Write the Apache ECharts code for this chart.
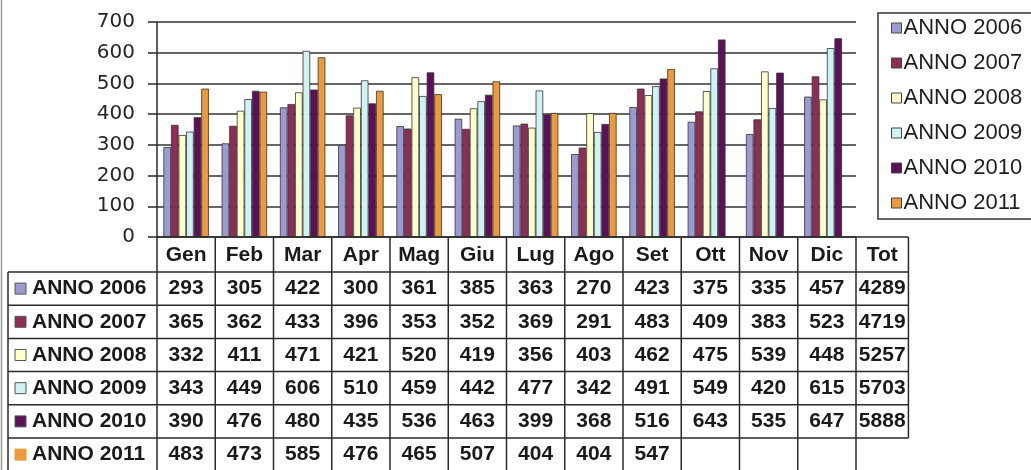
<!DOCTYPE html>
<html>
<head>
    <meta charset="utf-8">
    <title>ANNO 2006 - 2011</title>
    <script src="https://cdn.jsdelivr.net/npm/echarts@6/dist/echarts.min.js"></script>
    <style>
        html, body { margin: 0; padding: 0; background: #fff; }
    </style>
</head>
<body>
    <div id="c" style="width: 1031px;height:470px;"></div>
    <script>
    // mesi + totale
    var months = ['Gen', 'Feb', 'Mar', 'Apr', 'Mag', 'Giu', 'Lug', 'Ago', 'Set', 'Ott', 'Nov', 'Dic'];
    var years = ['ANNO 2006', 'ANNO 2007', 'ANNO 2008', 'ANNO 2009', 'ANNO 2010', 'ANNO 2011'];
    var yTicks = [0, 100, 200, 300, 400, 500, 600, 700];

    var anno2006 = [293, 305, 422, 300, 361, 385, 363, 270, 423, 375, 335, 457];
    var anno2007 = [365, 362, 433, 396, 353, 352, 369, 291, 483, 409, 383, 523];
    var anno2008 = [332, 411, 471, 421, 520, 419, 356, 403, 462, 475, 539, 448];
    var anno2009 = [343, 449, 606, 510, 459, 442, 477, 342, 491, 549, 420, 615];
    var anno2010 = [390, 476, 480, 435, 536, 463, 399, 368, 516, 643, 535, 647];
    var anno2011 = [483, 473, 585, 476, 465, 507, 404, 404, 547, null, null, null];
    var totals = [4289, 4719, 5257, 5703, 5888, null];

    var allData = [anno2006, anno2007, anno2008, anno2009, anno2010, anno2011];
    var colors = ['#9b9bd2', '#8e2d57', '#ffffcc', '#cff3f3', '#5c1059', '#ec9a3c'];

    var lineCol = '#2a2a2a';
    var txtCol = '#1a1a1a';
    var boldFont = 'bold 21px "Liberation Sans", Arial, sans-serif';

    var series = [];
    for (var i = 0; i < years.length; i++) {
        series.push({
            name: years[i],
            type: 'bar',
            data: allData[i],
            barGap: '0%',
            barCategoryGap: '22%',
            itemStyle: {
                color: colors[i],
                borderColor: '#333',
                borderWidth: 0.8
            }
        });
    }

    var myChart = echarts.init(document.getElementById('c'));
    var option = {
        animation: false,
        backgroundColor: '#fff',
        grid: {
            left: 157,
            right: 175,
            top: 22,
            bottom: 233,
            outerBoundsMode: 'none'
        },
        legend: {
            data: years,
            orient: 'vertical',
            left: 878,
            top: 13,
            padding: [4, 20, 5, 13],
            itemGap: 13,
            itemWidth: 10,
            itemHeight: 10,
            borderColor: '#333',
            borderWidth: 1.5,
            icon: 'rect',
            itemStyle: { borderColor: '#444', borderWidth: 1 },
            textStyle: {
                fontFamily: '"Liberation Sans", Arial, sans-serif',
                fontSize: 22,
                color: '#1e1e1e',
                padding: [0, 0, 0, -3]
            }
        },
        xAxis: {
            type: 'category',
            data: months,
            axisLine: { show: false },
            axisTick: { show: false },
            splitLine: { show: false },
            axisLabel: {
                margin: 8,
                verticalAlign: 'top',
                fontFamily: '"Liberation Sans", Arial, sans-serif',
                fontWeight: 'bold',
                fontSize: 21,
                color: txtCol
            }
        },
        yAxis: {
            type: 'value',
            min: yTicks[0],
            max: yTicks[yTicks.length - 1],
            interval: 100,
            axisLine: { show: true, lineStyle: { color: lineCol, width: 1.5 } },
            axisTick: { show: true, inside: false, length: 9, lineStyle: { color: lineCol, width: 1.5 } },
            splitLine: { show: true, lineStyle: { color: '#333', width: 1.5 } },
            axisLabel: {
                margin: 22,
                fontFamily: '"DejaVu Sans", sans-serif',
                fontSize: 20,
                color: '#262626',
                padding: [0, 0, 3, 0]
            }
        },
        series: series
    };
    myChart.setOption(option);

    // tabella dati sotto il grafico
    var c0 = myChart.convertToPixel({ xAxisIndex: 0 }, months[0]);
    var c1 = myChart.convertToPixel({ xAxisIndex: 0 }, months[1]);
    var band = c1 - c0;
    var gx = c0 - band / 2;
    var gEnd = gx + band * months.length;
    var totW = band * 0.9;
    var totEnd = gEnd + totW;
    var axisY = myChart.convertToPixel({ yAxisIndex: 0 }, 0);
    var headH = 35, rowH = 33.2;
    var labL = 8;

    var g = [];
    function line(x1, y1, x2, y2, col, w) {
        g.push({ type: 'line', silent: true, z: 10,
            shape: { x1: x1, y1: y1, x2: x2, y2: y2 },
            style: { stroke: col || lineCol, lineWidth: w || 1.5 } });
    }
    function txt(s, x, y, align) {
        g.push({ type: 'text', silent: true, z: 10, x: x, y: y,
            style: { text: s, font: boldFont, fill: txtCol, align: align || 'center', verticalAlign: 'middle' } });
    }

    // bordo a sinistra della foto
    line(1.5, 0, 1.5, 470, '#999', 1.5);

    // linee orizzontali
    line(gx, axisY, totEnd, axisY);
    for (var r = 0; r < years.length; r++) {
        var yy = axisY + headH + r * rowH;
        line(labL, yy, r === years.length - 1 ? gEnd : totEnd, yy);
    }
    // ultima riga (2011): Tot senza cella
    line(gEnd, axisY + headH + (years.length - 1) * rowH, totEnd, axisY + headH + (years.length - 1) * rowH);

    // linee verticali
    var tBottom = axisY + headH + years.length * rowH + 5;
    line(labL, axisY + headH, labL, tBottom);
    line(gx, axisY, gx, tBottom);
    for (var k = 1; k <= months.length; k++) {
        line(gx + k * band, axisY, gx + k * band, tBottom);
    }
    line(totEnd, axisY, totEnd, axisY + headH + (years.length - 1) * rowH);

    // intestazione Tot
    txt('Tot', gEnd + totW / 2, axisY + headH / 2 + 1);

    // righe
    for (var r2 = 0; r2 < years.length; r2++) {
        var cy = axisY + headH + r2 * rowH + rowH / 2;
        g.push({ type: 'rect', silent: true, z: 10,
            shape: { x: labL + 7, y: cy - 5.5, width: 11, height: 11 },
            style: { fill: colors[r2], stroke: r2 === 5 ? colors[r2] : '#555', lineWidth: 1 } });
        txt(years[r2], labL + 24, cy, 'left');
        var vals = allData[r2];
        for (var m = 0; m < months.length; m++) {
            if (vals[m] != null) txt(String(vals[m]), gx + (m + 0.5) * band, cy);
        }
        if (totals[r2] != null) txt(String(totals[r2]), gEnd + totW / 2, cy);
    }

    myChart.setOption({ graphic: { elements: g } });
    </script>
</body>
</html>
